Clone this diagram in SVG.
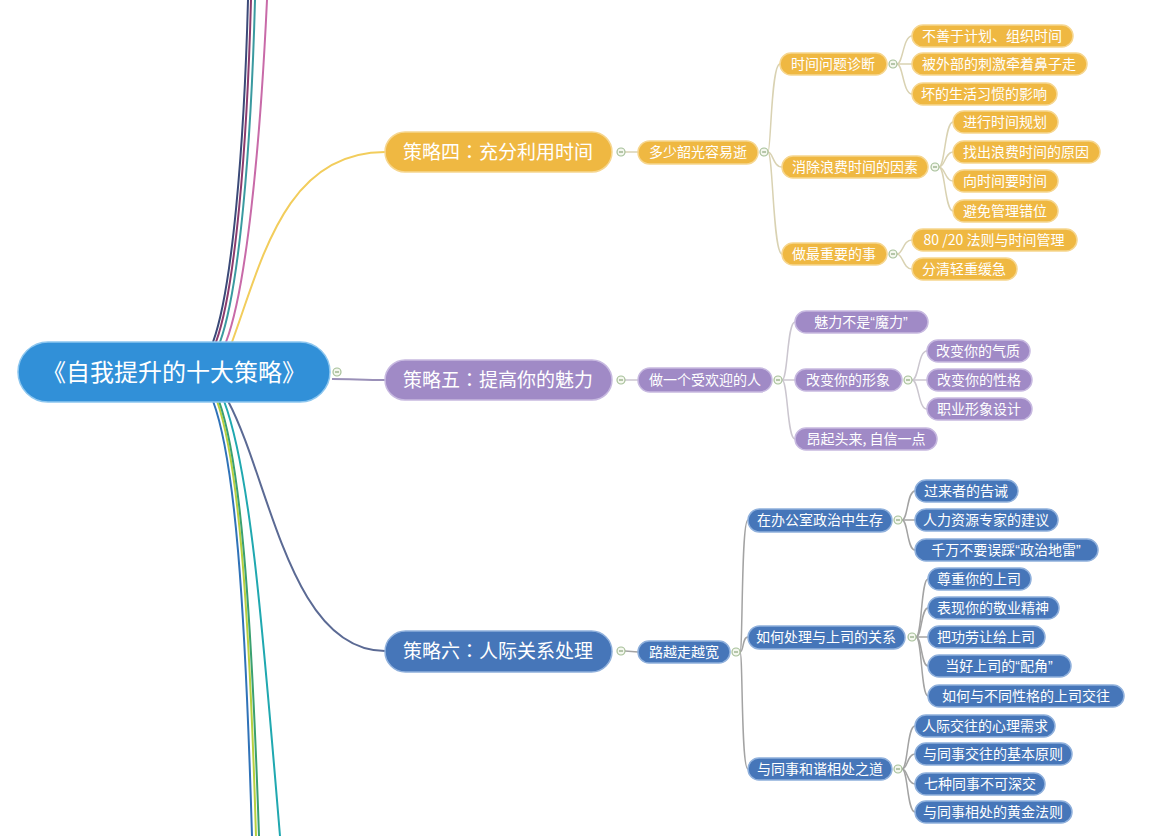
<svg xmlns="http://www.w3.org/2000/svg" width="1176" height="836" viewBox="0 0 1176 836">
<defs>
<style>
text{font-family:"Noto Sans CJK SC","Noto Sans",sans-serif;fill:#ffffff;text-anchor:middle}
.t14{font-size:14px}
.t19{font-size:19px}
.t24{font-size:24px}
.col{font-family:"Noto Sans CJK JP",sans-serif}
.q{font-family:"Liberation Sans",sans-serif}
.y{fill:#efb842;stroke:#f6d68f;stroke-width:1.5}
.p{fill:#a08ac6;stroke:#c7b9e0;stroke-width:1.5}
.b{fill:#4676b9;stroke:#8fb0dc;stroke-width:1.5}
.r{fill:#3190d8;stroke:#8cc6ef;stroke-width:1.5}
.cy{fill:none;stroke:#d9d2b2;stroke-width:1.5}
.cp{fill:none;stroke:#cbc6cf;stroke-width:1.5}
.cb{fill:none;stroke:#a3a3a3;stroke-width:1.5}
.m{fill:none;stroke-width:2}
.dot{fill:#f4f7ee;stroke:#a6bf98;stroke-width:1.2}
.dl{stroke:#8aa57c;stroke-width:1.2}
</style>
</defs>
<rect width="1176" height="836" fill="#ffffff"/>

<g id="connectors">
<path class="m" stroke="#3b4a78" d="M213 342 C232 290 244 150 248 0"/>
<path class="m" stroke="#8b3b6e" d="M216 342 C235 290 247 150 251 0"/>
<path class="m" stroke="#3a9aa0" d="M220 342 C239 290 251 150 255 0"/>
<path class="m" stroke="#c86aa8" d="M226 342 C246 290 260 150 267 0"/>
<path class="m" stroke="#2f72b8" stroke-width="2.5" d="M213 401 C235 460 245 600 252 836"/>
<path class="m" stroke="#b8d040" d="M217 401 C238 460 249 600 256 836"/>
<path class="m" stroke="#3aa070" d="M219 401 C240 460 251 600 259 836"/>
<path class="m" stroke="#20a8b0" d="M224 401 C250 470 262 620 280 836"/>
<path class="m" stroke="#f2cd5c" d="M232 342 C262 260 285 152 385 152"/>
<path class="m" stroke="#9a90b8" d="M332 379 C350 379 365 380 385 380"/>
<path class="m" stroke="#5b6a94" d="M228 401 C270 480 290 651 385 651"/>
<path class="cy" d="M625 152 L638 152"/>
<path class="cy" d="M768 152 C771 152 771 64 780 64"/>
<path class="cy" d="M768 152 C773 152 773 167 782 167"/>
<path class="cy" d="M768 152 C773 152 773 254 782 254"/>
<path class="cy" d="M897 64 C903 64 903 36 912 36"/>
<path class="cy" d="M897 64 L912 64"/>
<path class="cy" d="M897 64 C903 64 903 94 912 94"/>
<path class="cy" d="M939 167 C945 167 945 122 953 122"/>
<path class="cy" d="M939 167 C945 167 945 152 953 152"/>
<path class="cy" d="M939 167 C945 167 945 181 953 181"/>
<path class="cy" d="M939 167 C945 167 945 211 953 211"/>
<path class="cy" d="M897 254 C903 254 903 240 912 240"/>
<path class="cy" d="M897 254 C903 254 903 269 912 269"/>
<path class="cp" d="M625 380 L638 380"/>
<path class="cp" d="M782 380 C788 380 787 322 795 322"/>
<path class="cp" d="M782 380 L795 380"/>
<path class="cp" d="M782 380 C788 380 787 439 795 439"/>
<path class="cp" d="M912 380 C919 380 918 351 927 351"/>
<path class="cp" d="M912 380 L927 380"/>
<path class="cp" d="M912 380 C919 380 918 409 927 409"/>
<path class="cb" d="M625 651 L638 652"/>
<path class="cb" d="M740 652 C743 652 741 520 748 520"/>
<path class="cb" d="M740 652 C744 652 742 637 748 637"/>
<path class="cb" d="M740 652 C743 652 741 769 748 769"/>
<path class="cb" d="M902 520 C908 520 907 491 915 491"/>
<path class="cb" d="M902 520 L915 520"/>
<path class="cb" d="M902 520 C908 520 907 550 915 550"/>
<path class="cb" d="M916 637 C922 637 921 579 928 579"/>
<path class="cb" d="M916 637 C922 637 921 608 928 608"/>
<path class="cb" d="M916 637 L928 637"/>
<path class="cb" d="M916 637 C922 637 921 666 928 666"/>
<path class="cb" d="M916 637 C922 637 921 696 928 696"/>
<path class="cb" d="M902 769 C908 769 907 726 915 726"/>
<path class="cb" d="M902 769 C908 769 907 754 915 754"/>
<path class="cb" d="M902 769 C908 769 907 784 915 784"/>
<path class="cb" d="M902 769 C908 769 907 812 915 812"/>
<g>
<circle class="dot" cx="337" cy="372" r="4"/><line class="dl" x1="335" y1="372" x2="339" y2="372"/>
<circle class="dot" cx="621" cy="152" r="4"/><line class="dl" x1="619" y1="152" x2="623" y2="152"/>
<circle class="dot" cx="764" cy="152" r="4"/><line class="dl" x1="762" y1="152" x2="766" y2="152"/>
<circle class="dot" cx="893" cy="64" r="4"/><line class="dl" x1="891" y1="64" x2="895" y2="64"/>
<circle class="dot" cx="935" cy="167" r="4"/><line class="dl" x1="933" y1="167" x2="937" y2="167"/>
<circle class="dot" cx="893" cy="254" r="4"/><line class="dl" x1="891" y1="254" x2="895" y2="254"/>
<circle class="dot" cx="621" cy="380" r="4"/><line class="dl" x1="619" y1="380" x2="623" y2="380"/>
<circle class="dot" cx="778" cy="380" r="4"/><line class="dl" x1="776" y1="380" x2="780" y2="380"/>
<circle class="dot" cx="908" cy="380" r="4"/><line class="dl" x1="906" y1="380" x2="910" y2="380"/>
<circle class="dot" cx="621" cy="651" r="4"/><line class="dl" x1="619" y1="651" x2="623" y2="651"/>
<circle class="dot" cx="736" cy="652" r="4"/><line class="dl" x1="734" y1="652" x2="738" y2="652"/>
<circle class="dot" cx="898" cy="520" r="4"/><line class="dl" x1="896" y1="520" x2="900" y2="520"/>
<circle class="dot" cx="912" cy="637" r="4"/><line class="dl" x1="910" y1="637" x2="914" y2="637"/>
<circle class="dot" cx="898" cy="769" r="4"/><line class="dl" x1="896" y1="769" x2="900" y2="769"/>
</g>
</g>

<g id="root"><rect class="r" x="18" y="342" width="312" height="60" rx="30"/><text class="t24" x="174" y="381">《自我提升的十大策略》</text></g>

<g id="s4"><rect class="y" x="385" y="132" width="227" height="40" rx="20"/><text class="t19" x="498" y="159">策略四<tspan class="col">：</tspan>充分利用时间</text></g>
<g id="s4a"><rect class="y" x="638" y="141" width="120" height="23" rx="11.5"/><text class="t14" x="698" y="157">多少韶光容易逝</text></g>
<g id="s4a1"><rect class="y" x="780" y="53" width="107" height="22" rx="11"/><text class="t14" x="833" y="69">时间问题诊断</text></g>
<g id="s4a1a"><rect class="y" x="912" y="25" width="161" height="22" rx="11"/><text class="t14" x="992" y="41">不善于计划、组织时间</text></g>
<g id="s4a1b"><rect class="y" x="912" y="53" width="175" height="22" rx="11"/><text class="t14" x="999" y="69">被外部的刺激牵着鼻子走</text></g>
<g id="s4a1c"><rect class="y" x="912" y="83" width="145" height="22" rx="11"/><text class="t14" x="984" y="99">坏的生活习惯的影响</text></g>
<g id="s4a2"><rect class="y" x="782" y="156" width="146" height="22" rx="11"/><text class="t14" x="855" y="172">消除浪费时间的因素</text></g>
<g id="s4a2a"><rect class="y" x="953" y="111" width="105" height="22" rx="11"/><text class="t14" x="1005" y="127">进行时间规划</text></g>
<g id="s4a2b"><rect class="y" x="953" y="141" width="147" height="22" rx="11"/><text class="t14" x="1026" y="157">找出浪费时间的原因</text></g>
<g id="s4a2c"><rect class="y" x="953" y="170" width="105" height="22" rx="11"/><text class="t14" x="1005" y="186">向时间要时间</text></g>
<g id="s4a2d"><rect class="y" x="953" y="200" width="105" height="22" rx="11"/><text class="t14" x="1005" y="216">避免管理错位</text></g>
<g id="s4a3"><rect class="y" x="782" y="243" width="105" height="22" rx="11"/><text class="t14" x="834" y="259">做最重要的事</text></g>
<g id="s4a3a"><rect class="y" x="912" y="229" width="165" height="22" rx="11"/><text class="t14" x="994" y="245">80 /20 法则与时间管理</text></g>
<g id="s4a3b"><rect class="y" x="912" y="258" width="105" height="22" rx="11"/><text class="t14" x="964" y="274">分清轻重缓急</text></g>

<g id="s5"><rect class="p" x="385" y="360" width="227" height="40" rx="20"/><text class="t19" x="498" y="387">策略五<tspan class="col">：</tspan>提高你的魅力</text></g>
<g id="s5a"><rect class="p" x="638" y="368" width="134" height="24" rx="12"/><text class="t14" x="705" y="385">做一个受欢迎的人</text></g>
<g id="s5a1"><rect class="p" x="795" y="311" width="133" height="22" rx="11"/><text class="t14" x="861" y="327">魅力不是<tspan class="q">“</tspan>魔力<tspan class="q">”</tspan></text></g>
<g id="s5a2"><rect class="p" x="795" y="369" width="107" height="22" rx="11"/><text class="t14" x="848" y="385">改变你的形象</text></g>
<g id="s5a2a"><rect class="p" x="927" y="340" width="103" height="22" rx="11"/><text class="t14" x="978" y="356">改变你的气质</text></g>
<g id="s5a2b"><rect class="p" x="927" y="369" width="105" height="22" rx="11"/><text class="t14" x="979" y="385">改变你的性格</text></g>
<g id="s5a2c"><rect class="p" x="927" y="398" width="105" height="22" rx="11"/><text class="t14" x="979" y="414">职业形象设计</text></g>
<g id="s5a3"><rect class="p" x="795" y="428" width="142" height="22" rx="11"/><text class="t14" x="866" y="444">昂起头来, 自信一点</text></g>

<g id="s6"><rect class="b" x="385" y="631" width="227" height="41" rx="20.5"/><text class="t19" x="498" y="658">策略六<tspan class="col">：</tspan>人际关系处理</text></g>
<g id="s6a"><rect class="b" x="638" y="641" width="92" height="22" rx="11"/><text class="t14" x="684" y="657">路越走越宽</text></g>
<g id="s6a1"><rect class="b" x="748" y="509" width="144" height="23" rx="11.5"/><text class="t14" x="820" y="525">在办公室政治中生存</text></g>
<g id="s6a1a"><rect class="b" x="915" y="480" width="103" height="22" rx="11"/><text class="t14" x="966" y="496">过来者的告诫</text></g>
<g id="s6a1b"><rect class="b" x="915" y="509" width="143" height="22" rx="11"/><text class="t14" x="986" y="525">人力资源专家的建议</text></g>
<g id="s6a1c"><rect class="b" x="915" y="539" width="183" height="22" rx="11"/><text class="t14" x="1006" y="555">千万不要误踩<tspan class="q">“</tspan>政治地雷<tspan class="q">”</tspan></text></g>
<g id="s6a2"><rect class="b" x="748" y="626" width="157" height="23" rx="11.5"/><text class="t14" x="826" y="642">如何处理与上司的关系</text></g>
<g id="s6a2a"><rect class="b" x="928" y="568" width="103" height="22" rx="11"/><text class="t14" x="979" y="584">尊重你的上司</text></g>
<g id="s6a2b"><rect class="b" x="928" y="597" width="131" height="22" rx="11"/><text class="t14" x="993" y="613">表现你的敬业精神</text></g>
<g id="s6a2c"><rect class="b" x="928" y="626" width="117" height="22" rx="11"/><text class="t14" x="986" y="642">把功劳让给上司</text></g>
<g id="s6a2d"><rect class="b" x="928" y="655" width="143" height="22" rx="11"/><text class="t14" x="999" y="671">当好上司的<tspan class="q">“</tspan>配角<tspan class="q">”</tspan></text></g>
<g id="s6a2e"><rect class="b" x="928" y="685" width="196" height="22" rx="11"/><text class="t14" x="1026" y="701">如何与不同性格的上司交往</text></g>
<g id="s6a3"><rect class="b" x="748" y="758" width="144" height="22" rx="11"/><text class="t14" x="820" y="774">与同事和谐相处之道</text></g>
<g id="s6a3a"><rect class="b" x="915" y="715" width="140" height="22" rx="11"/><text class="t14" x="985" y="731">人际交往的心理需求</text></g>
<g id="s6a3b"><rect class="b" x="915" y="743" width="157" height="22" rx="11"/><text class="t14" x="993" y="759">与同事交往的基本原则</text></g>
<g id="s6a3c"><rect class="b" x="915" y="773" width="130" height="22" rx="11"/><text class="t14" x="980" y="789">七种同事不可深交</text></g>
<g id="s6a3d"><rect class="b" x="915" y="801" width="157" height="22" rx="11"/><text class="t14" x="993" y="817">与同事相处的黄金法则</text></g>
</svg>
